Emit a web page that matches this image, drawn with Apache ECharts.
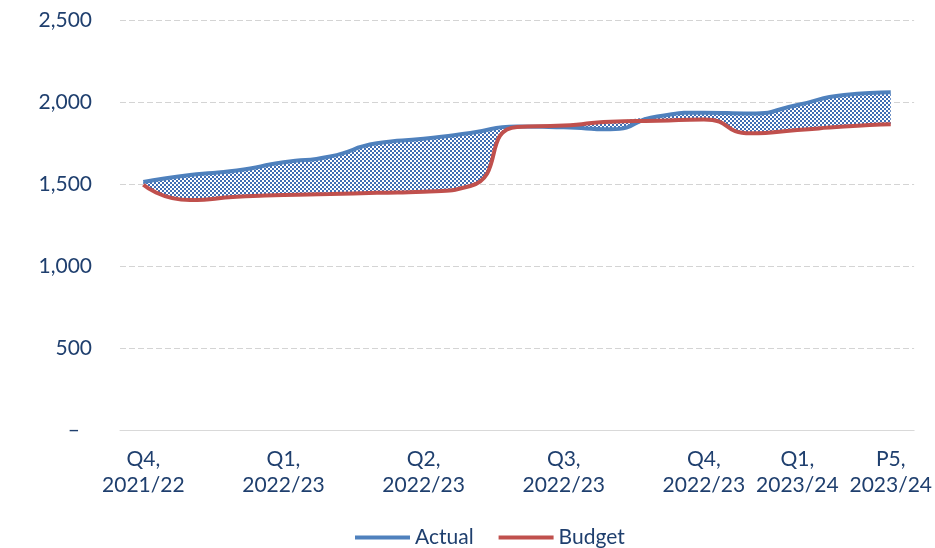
<!DOCTYPE html>
<html>
<head>
<meta charset="utf-8">
<style>
  html, body { margin: 0; padding: 0; background: #fff; }
  #chart { width: 935px; height: 548px; }
</style>
<script src="https://cdn.jsdelivr.net/npm/echarts@6/dist/echarts.min.js"></script>
</head>
<body>
<div id="chart"></div>
<script>
// x positions: one slot per period, only some are labelled
var tickLabels = [
    'Q4,\n2021/22', '', '', 'Q1,\n2022/23', '', '', 'Q2,\n2022/23', '', '',
    'Q3,\n2022/23', '', '', 'Q4,\n2022/23', '', 'Q1,\n2023/24', '', 'P5,\n2023/24'
];
var actual = [1512, 1555, 1582, 1632, 1668, 1748, 1776, 1811, 1850, 1846, 1834, 1912, 1935, 1930, 1982, 2043, 2060];
var budget = [1495, 1402, 1423, 1433, 1439, 1446, 1453, 1488, 1848, 1856, 1880, 1886, 1894, 1809, 1829, 1850, 1864];

var textColor = '#1f3f6e';
var font = 'Lato';
var fs = 21;
var sm = 0.6;

// hatched pattern for the gap between the two lines
var pat = document.createElement('canvas');
pat.width = 4;
pat.height = 4;
var ctx = pat.getContext('2d');
ctx.fillStyle = '#ffffff';
ctx.fillRect(0, 0, 4, 4);
ctx.fillStyle = '#3f6db3';
ctx.fillRect(0, 0, 2, 2);
ctx.fillRect(2, 2, 2, 2);

// band = stacked area from the lower line up to the higher one
var low = [], gap = [];
for (var i = 0; i < actual.length; i++) {
    low.push(Math.min(actual[i], budget[i]));
    gap.push(Math.abs(actual[i] - budget[i]));
}

var chart = echarts.init(document.getElementById('chart'));
chart.setOption({
    animation: false,
    grid: { left: 120, right: 20, top: 20, bottom: 118 },
    legend: {
        data: ['Actual', 'Budget'],
        top: 522,
        left: 350,
        icon: 'rect',
        itemWidth: 55,
        itemHeight: 4,
        itemGap: 25,
        textStyle: { color: textColor, fontFamily: font, fontSize: fs }
    },
    xAxis: {
        type: 'category',
        data: tickLabels,
        boundaryGap: true,
        axisLine: { lineStyle: { color: '#d9d9d9', width: 1 } },
        axisTick: { show: false },
        axisLabel: {
            interval: 0,
            color: textColor,
            fontFamily: font,
            fontSize: fs,
            lineHeight: 26,
            margin: 16
        }
    },
    yAxis: {
        type: 'value',
        min: 0,
        max: 2500,
        interval: 500,
        axisLine: { show: false },
        axisTick: { show: false },
        splitLine: { lineStyle: { color: '#d4d4d4', type: [6, 3], width: 1 } },
        axisLabel: {
            color: textColor,
            fontFamily: font,
            fontSize: fs,
            margin: 28,
            formatter: function (v) {
                if (v === 0) return '{z|–}';
                return v.toLocaleString('en-US');
            },
            rich: {
                z: { color: textColor, fontFamily: font, fontSize: fs, padding: [0, 12, 0, 0] }
            }
        }
    },
    series: [
        {
            name: 'base',
            type: 'line',
            data: low,
            stack: 'gap',
            smooth: sm,
            showSymbol: false,
            lineStyle: { width: 0, opacity: 0 },
            silent: true
        },
        {
            name: 'band',
            type: 'line',
            data: gap,
            stack: 'gap',
            smooth: sm,
            showSymbol: false,
            lineStyle: { width: 0, opacity: 0 },
            areaStyle: { color: { image: pat, repeat: 'repeat' }, opacity: 1 },
            silent: true
        },
        {
            name: 'Actual',
            type: 'line',
            data: actual,
            smooth: sm,
            showSymbol: false,
            itemStyle: { color: '#4f81bd' },
            lineStyle: { color: '#4f81bd', width: 4 }
        },
        {
            name: 'Budget',
            type: 'line',
            data: budget,
            smooth: sm,
            showSymbol: false,
            itemStyle: { color: '#c0504d' },
            lineStyle: { color: '#c0504d', width: 4 }
        }
    ]
});
</script>
</body>
</html>
